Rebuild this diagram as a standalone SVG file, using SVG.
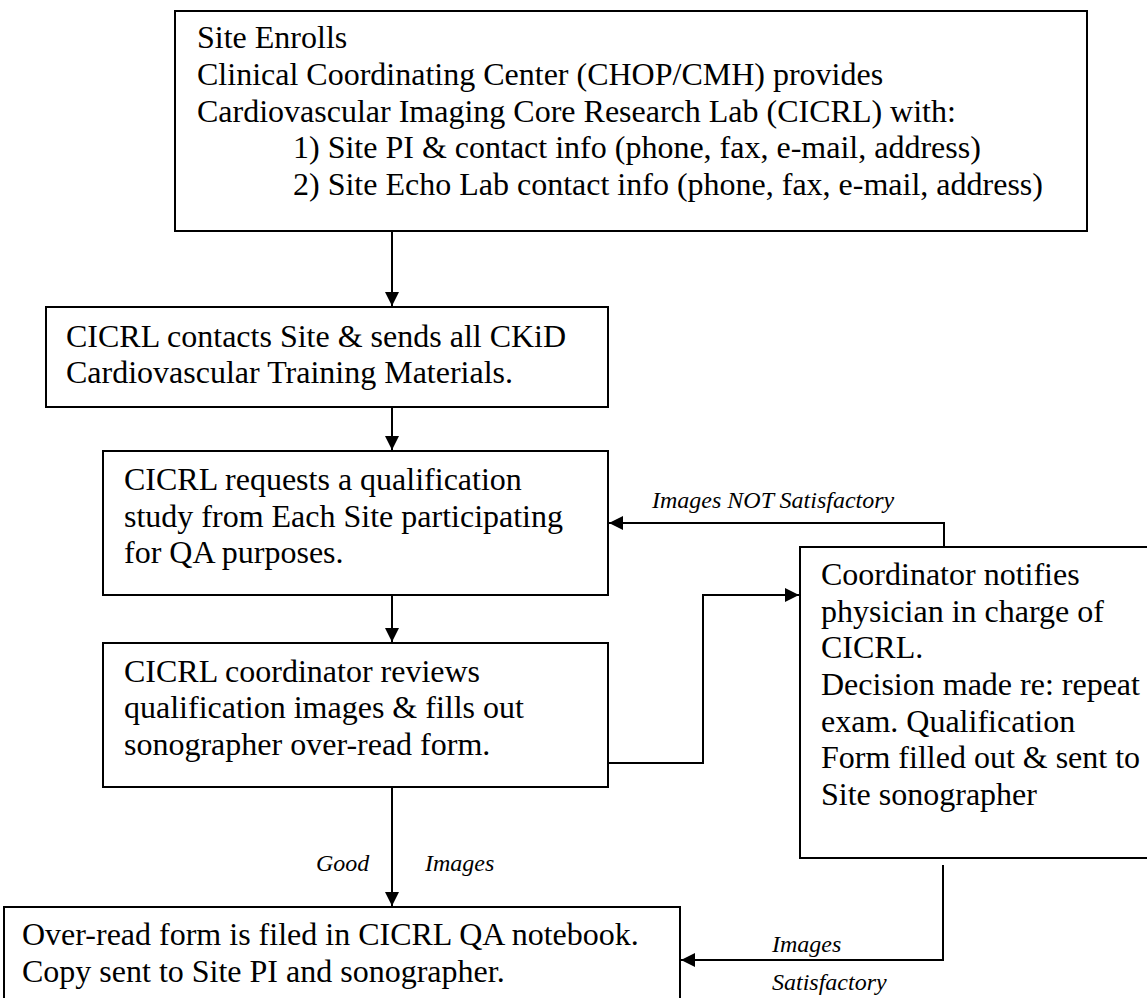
<svg xmlns="http://www.w3.org/2000/svg" width="1147" height="998" viewBox="0 0 1147 998">
<style>
.box{fill:#fff;stroke:#000;stroke-width:2}
.t{font-family:"Liberation Serif","Times New Roman",serif;font-size:32px;fill:#000}
.lbl{font-family:"Liberation Serif","Times New Roman",serif;font-size:24px;font-style:italic;fill:#000}
.c{fill:none;stroke:#000;stroke-width:2}
</style>
<defs>
<marker id="ah" viewBox="0 0 14 14" refX="14" refY="7" markerWidth="14" markerHeight="14" markerUnits="userSpaceOnUse" orient="auto">
<path d="M0,0 L14,7 L0,14 Z" fill="#000"/>
</marker>
</defs>
<rect width="1147" height="998" fill="#fff"/>
<g id="connectors">
<path class="c" d="M392,231 V306" marker-end="url(#ah)"/>
<path class="c" d="M392,408 V450" marker-end="url(#ah)"/>
<path class="c" d="M392,596 V642" marker-end="url(#ah)"/>
<path class="c" d="M392,788 V906" marker-end="url(#ah)"/>
<path class="c" d="M608,763 H703 V595 H799" marker-end="url(#ah)"/>
<path class="c" d="M944,547 V523 H609" marker-end="url(#ah)"/>
<path class="c" d="M943,865 V960 H681" marker-end="url(#ah)"/>
<text class="lbl" x="652" y="508">Images NOT Satisfactory</text>
<text class="lbl" x="316" y="871">Good</text>
<text class="lbl" x="425" y="871">Images</text>
<text class="lbl" x="772" y="952">Images</text>
<text class="lbl" x="772" y="990">Satisfactory</text>
</g>
<g id="n1">
<rect class="box" x="175" y="11" width="912" height="220"/>
<text class="t" x="197" y="48">Site Enrolls</text>
<text class="t" x="197" y="85">Clinical Coordinating Center (CHOP/CMH) provides</text>
<text class="t" x="197" y="122">Cardiovascular Imaging Core Research Lab (CICRL) with:</text>
<text class="t" x="293" y="158">1) Site PI &amp; contact info (phone, fax, e-mail, address)</text>
<text class="t" x="293" y="195">2) Site Echo Lab contact info (phone, fax, e-mail, address)</text>
</g>
<g id="n2">
<rect class="box" x="46" y="307" width="562" height="100"/>
<text class="t" x="66" y="347">CICRL contacts Site &amp; sends all CKiD</text>
<text class="t" x="66" y="383">Cardiovascular Training Materials.</text>
</g>
<g id="n3">
<rect class="box" x="103" y="451" width="505" height="144"/>
<text class="t" x="124" y="490">CICRL requests a qualification</text>
<text class="t" x="124" y="527">study from Each Site participating</text>
<text class="t" x="124" y="563">for QA purposes.</text>
</g>
<g id="n4">
<rect class="box" x="103" y="643" width="505" height="144"/>
<text class="t" x="124" y="682">CICRL coordinator reviews</text>
<text class="t" x="124" y="718">qualification images &amp; fills out</text>
<text class="t" x="124" y="755">sonographer over-read form.</text>
</g>
<g id="n5">
<rect class="box" x="800" y="547" width="360" height="311"/>
<text class="t" x="821" y="585">Coordinator notifies</text>
<text class="t" x="821" y="622">physician in charge of</text>
<text class="t" x="821" y="658">CICRL.</text>
<text class="t" x="821" y="695">Decision made re: repeat</text>
<text class="t" x="821" y="732">exam. Qualification</text>
<text class="t" x="821" y="768">Form filled out &amp; sent to</text>
<text class="t" x="821" y="805">Site sonographer</text>
</g>
<g id="n6">
<rect class="box" x="4" y="907" width="676" height="110"/>
<text class="t" x="22" y="945">Over-read form is filed in CICRL QA notebook.</text>
<text class="t" x="22" y="982">Copy sent to Site PI and sonographer.</text>
</g>
</svg>
